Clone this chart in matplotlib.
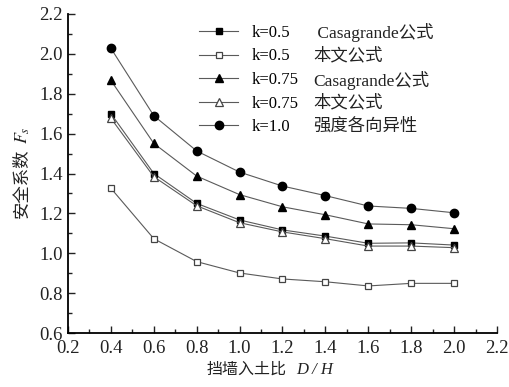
import numpy as np
import matplotlib.pyplot as plt
from matplotlib.ticker import MultipleLocator

plt.rcParams['font.family'] = ['Liberation Serif', 'Noto Sans CJK SC']

dh = [0.4, 0.6, 0.8, 1.0, 1.2, 1.4, 1.6, 1.8, 2.0]

k05_cas = [1.70, 1.40, 1.25, 1.167, 1.117, 1.086, 1.05, 1.052, 1.041]
k05_ours = [1.326, 1.073, 0.958, 0.901, 0.871, 0.857, 0.836, 0.849, 0.849]
k075_cas = [1.867, 1.551, 1.387, 1.294, 1.233, 1.193, 1.147, 1.143, 1.123]
k075_ours = [1.677, 1.384, 1.238, 1.153, 1.107, 1.073, 1.036, 1.036, 1.028]
k10 = [2.028, 1.69, 1.513, 1.407, 1.337, 1.289, 1.237, 1.225, 1.203]

k_labels = ['k=0.5', 'k=0.5', 'k=0.75', 'k=0.75', 'k=1.0']
methods = [' Casagrande公式', '本文公式', 'Casagrande公式', '本文公式', '强度各向异性']

W, H = 510, 387
fig = plt.figure(figsize=(5.1, 3.87), dpi=100)
ax = fig.add_axes([68 / W, 1 - 333 / H, 429 / W, 319 / H])

lc = '#5a5a5a'
ax.plot(dh, k05_cas, '-s', color=lc, lw=0.8, ms=5, mfc='black', mec='black')
ax.plot(dh, k05_ours, '-s', color=lc, lw=0.8, ms=5, mfc='white', mec='#444444', mew=0.9)
ax.plot(dh, k075_cas, '-^', color=lc, lw=0.8, ms=6, mfc='black', mec='black')
ax.plot(dh, k075_ours, '-^', color=lc, lw=0.8, ms=6, mfc='white', mec='#444444', mew=0.9)
ax.plot(dh, k10, '-o', color=lc, lw=0.8, ms=6, mfc='black', mec='black')

ax.set_xlim(0.2, 2.2)
ax.set_ylim(0.6, 2.2)
ax.xaxis.set_major_locator(MultipleLocator(0.2))
ax.xaxis.set_minor_locator(MultipleLocator(0.1))
ax.yaxis.set_major_locator(MultipleLocator(0.2))
ax.yaxis.set_minor_locator(MultipleLocator(0.1))
ax.xaxis.set_major_formatter(plt.FormatStrFormatter('%.1f'))
ax.yaxis.set_major_formatter(plt.FormatStrFormatter('%.1f'))

ax.spines['top'].set_visible(False)
ax.spines['right'].set_visible(False)
ax.spines['left'].set_linewidth(1.3)
ax.spines['bottom'].set_linewidth(1.3)
ax.tick_params(which='both', direction='in', labelsize=13.5, width=1.0, colors='#222222')
ax.tick_params(which='major', length=5)
ax.tick_params(axis='x', which='major', pad=5)
ax.tick_params(axis='y', which='major', pad=4)
ax.tick_params(which='minor', length=3)

# axis labels (CJK part + italic symbol part)
fig.text(287 / W, 1 - 370 / H, '挡墙入土比', fontsize=11.5, ha='right', va='center', color='#222222')
fig.text(296 / W, 1 - 370 / H, 'D / H', fontsize=12, style='italic', ha='left', va='center',
         color='#222222')
fig.text(23 / W, 1 - 218 / H, '安全系数', fontsize=12.5, rotation=90, ha='center', va='bottom',
         color='#222222')
fig.text(23 / W, 1 - 126 / H, '$F_s$', fontsize=13, rotation=90, ha='center', va='top',
         color='#222222', math_fontfamily='stix')

leg = ax.legend(ax.get_lines(), k_labels, loc='upper left',
                bbox_to_anchor=((199 - 68) / 429, (333 - 25) / 319),
                frameon=False, fontsize=12, handlelength=2.35, labelspacing=0.45,
                handletextpad=0.8, borderpad=0, borderaxespad=0)

fig.canvas.draw()
for t, m in zip(leg.get_texts(), methods):
    bb = t.get_window_extent()
    yc = (bb.y0 + bb.y1) / 2
    fig.text(313 / W, yc / (H), m, fontsize=12.5, ha='left', va='center', color='#222222')

fig.savefig('out.png', dpi=100)
